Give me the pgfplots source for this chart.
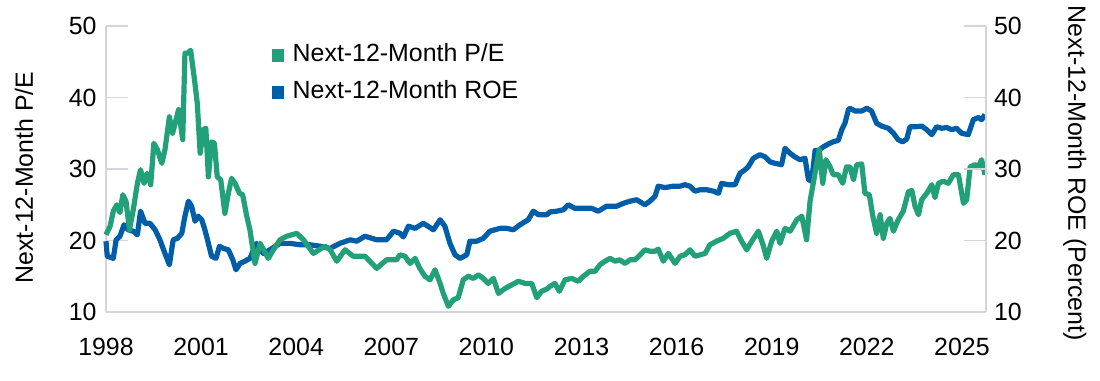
\documentclass[border=0pt]{standalone}
\usepackage{fontspec}
\setmainfont{Liberation Sans}
\usepackage{pgfplots}
\pgfplotsset{compat=1.18}
\definecolor{peGreen}{RGB}{34,160,122}
\definecolor{roeBlue}{RGB}{0,94,168}
\definecolor{axGray}{RGB}{210,214,220}
\newcommand{\lblfont}{\fontsize{25}{30}\selectfont}
\begin{document}
\begin{tikzpicture}
\path[use as bounding box] (-106bp,-69bp) rectangle (994bp,312bp);
\begin{axis}[
  at={(0,0)}, anchor=south west,
  scale only axis, width=880bp, height=286bp,
  xmin=1998, xmax=2025.76, ymin=10, ymax=50,
  clip=false,
  axis x line*=bottom, axis y line*=left,
  axis line style={axGray, line width=1.2bp},
  xtick={1998,2001,...,2025},
  ytick={10,20,...,50},
  tick align=inside,
  major tick length=22bp,
  x tick style={draw=none},
  y tick style={axGray, line width=1.2bp},
  tick label style={font=\lblfont, /pgf/number format/assume math mode=true},
  xticklabel style={/pgf/number format/1000 sep={}, yshift=-23bp},
  yticklabel style={xshift=-6bp},
  ylabel={Next-12-Month P/E},
  ylabel style={at={(axis description cs:-0.0932,0.47)}, anchor=center, font=\lblfont},
  legend cell align=left,
  legend style={draw=none, fill=none, at={(axis description cs:0.188,0.945)}, anchor=north west,
    font=\lblfont, row sep=10bp, column sep=7bp, inner sep=0pt,
    nodes={inner sep=2bp, text height=18bp, text depth=5bp}},
  legend image code/.code={\fill[#1] (0bp,-5.8bp) rectangle (11.7bp,5.8bp);},
]
\addlegendimage{peGreen, fill=peGreen}
\addlegendentry{Next-12-Month P/E}
\addlegendimage{roeBlue, fill=roeBlue}
\addlegendentry{Next-12-Month ROE}
\addplot[roeBlue, line width=5.2bp, line join=round, forget plot] coordinates {
(1998.00,19.9)(1998.04,17.8)(1998.23,17.5)(1998.32,20.1)(1998.44,20.6)(1998.57,22.2)(1998.70,21.5)(1998.86,21.3)(1998.99,20.8)(1999.09,24.1)(1999.23,22.4)(1999.39,22.4)(1999.55,21.5)(1999.70,20.1)(1999.86,18.2)(2000.00,16.6)(2000.12,20.1)(2000.25,20.3)(2000.39,21.0)(2000.49,23.4)(2000.60,25.5)(2000.70,24.8)(2000.81,22.7)(2000.91,23.4)(2001.02,22.9)(2001.12,21.5)(2001.23,19.6)(2001.33,17.8)(2001.47,17.5)(2001.58,19.2)(2001.70,18.9)(2001.86,18.7)(2002.00,17.3)(2002.10,15.9)(2002.23,16.8)(2002.38,17.1)(2002.54,17.5)(2002.75,19.6)(2002.96,18.2)(2003.17,18.7)(2003.49,19.6)(2003.81,19.6)(2004.12,19.4)(2004.44,19.4)(2004.75,19.2)(2005.07,18.9)(2005.38,19.6)(2005.70,20.1)(2005.91,19.9)(2006.17,20.6)(2006.54,20.1)(2006.85,20.1)(2007.07,21.3)(2007.28,21.0)(2007.38,20.5)(2007.54,22.0)(2007.75,21.7)(2008.01,22.4)(2008.33,21.5)(2008.54,22.9)(2008.69,22.0)(2008.85,19.6)(2009.01,18.0)(2009.17,17.5)(2009.38,18.0)(2009.48,19.9)(2009.69,19.9)(2009.90,20.3)(2010.11,21.3)(2010.43,21.7)(2010.64,21.7)(2010.85,21.5)(2011.06,22.2)(2011.32,22.9)(2011.48,24.1)(2011.64,23.6)(2011.90,23.6)(2012.01,24.0)(2012.22,24.1)(2012.43,24.3)(2012.58,25.0)(2012.79,24.5)(2013.06,24.5)(2013.32,24.5)(2013.53,24.1)(2013.79,24.8)(2014.11,24.8)(2014.32,25.2)(2014.53,25.5)(2014.74,25.7)(2015.00,25.0)(2015.16,25.5)(2015.32,26.2)(2015.42,27.6)(2015.63,27.4)(2015.90,27.6)(2016.11,27.6)(2016.26,27.8)(2016.42,27.6)(2016.58,26.9)(2016.74,27.1)(2016.95,27.1)(2017.16,26.9)(2017.32,26.6)(2017.42,28.0)(2017.63,27.8)(2017.84,27.8)(2018.00,29.4)(2018.16,29.9)(2018.26,30.3)(2018.42,31.5)(2018.63,32.0)(2018.79,31.7)(2018.95,31.0)(2019.10,30.8)(2019.31,30.6)(2019.42,32.9)(2019.58,32.2)(2019.73,31.7)(2019.89,31.3)(2020.05,31.5)(2020.16,28.5)(2020.26,28.3)(2020.37,32.6)(2020.47,32.6)(2020.63,33.1)(2020.79,33.5)(2020.94,33.8)(2021.10,34.0)(2021.21,35.5)(2021.31,36.4)(2021.42,38.3)(2021.47,38.5)(2021.63,38.1)(2021.84,38.1)(2022.00,38.5)(2022.15,38.1)(2022.31,36.4)(2022.47,36.0)(2022.68,35.7)(2022.84,35.0)(2022.99,34.1)(2023.13,33.8)(2023.26,34.2)(2023.36,35.9)(2023.52,35.9)(2023.73,36.0)(2023.89,35.5)(2024.05,34.8)(2024.20,35.9)(2024.36,35.7)(2024.52,35.8)(2024.68,35.5)(2024.83,35.7)(2024.99,35.0)(2025.20,34.8)(2025.36,36.9)(2025.52,37.2)(2025.62,36.9)(2025.73,37.6)
};
\addplot[peGreen, line width=5.2bp, line join=round, forget plot] coordinates {
(1998.00,20.8)(1998.13,22.0)(1998.23,24.1)(1998.34,25.0)(1998.44,23.9)(1998.53,26.4)(1998.63,25.5)(1998.74,21.5)(1998.86,24.3)(1998.99,28.0)(1999.09,29.9)(1999.20,28.0)(1999.30,29.4)(1999.41,27.8)(1999.51,33.6)(1999.62,32.7)(1999.76,30.8)(1999.86,32.7)(2000.00,37.3)(2000.10,35.0)(2000.21,36.9)(2000.29,38.3)(2000.42,34.1)(2000.49,46.2)(2000.57,46.2)(2000.67,46.6)(2000.78,42.9)(2000.88,39.2)(2000.97,32.2)(2001.07,35.5)(2001.15,35.7)(2001.23,28.9)(2001.33,33.8)(2001.42,33.6)(2001.51,28.9)(2001.62,28.5)(2001.75,23.8)(2001.86,26.6)(2001.96,28.7)(2002.07,28.0)(2002.21,26.6)(2002.31,26.4)(2002.44,23.4)(2002.54,21.5)(2002.70,16.8)(2002.86,19.6)(2003.12,17.5)(2003.28,18.7)(2003.49,20.1)(2003.70,20.6)(2004.02,21.0)(2004.23,20.1)(2004.54,18.2)(2004.91,19.2)(2005.07,18.7)(2005.28,17.1)(2005.54,18.7)(2005.80,17.8)(2006.17,17.8)(2006.54,16.1)(2006.85,17.3)(2007.17,17.3)(2007.27,18.0)(2007.43,17.8)(2007.59,16.8)(2007.75,17.5)(2007.90,16.1)(2008.06,15.0)(2008.22,14.5)(2008.38,15.9)(2008.54,14.0)(2008.64,12.6)(2008.80,10.8)(2008.96,11.7)(2009.11,12.0)(2009.27,14.5)(2009.43,15.0)(2009.59,14.7)(2009.75,15.2)(2009.90,14.7)(2010.06,14.0)(2010.22,14.7)(2010.38,12.6)(2010.59,13.3)(2010.80,13.8)(2011.01,14.3)(2011.22,14.0)(2011.43,14.0)(2011.59,12.0)(2011.74,12.9)(2011.90,13.2)(2012.01,13.6)(2012.16,14.0)(2012.30,12.9)(2012.48,14.5)(2012.69,14.7)(2012.90,14.3)(2013.06,15.0)(2013.27,15.7)(2013.43,15.7)(2013.58,16.6)(2013.74,17.1)(2013.90,17.5)(2014.06,17.1)(2014.21,17.3)(2014.37,16.8)(2014.53,17.3)(2014.69,17.3)(2014.85,18.0)(2015.00,18.7)(2015.16,18.5)(2015.32,18.5)(2015.42,18.8)(2015.58,17.1)(2015.74,18.2)(2015.95,16.8)(2016.11,17.8)(2016.26,18.0)(2016.42,18.7)(2016.58,17.8)(2016.74,18.0)(2016.90,18.2)(2017.05,19.4)(2017.26,19.9)(2017.47,20.3)(2017.68,21.0)(2017.89,21.3)(2018.05,19.9)(2018.21,18.7)(2018.37,19.9)(2018.58,21.3)(2018.74,19.2)(2018.84,17.5)(2019.00,19.9)(2019.16,21.3)(2019.26,19.6)(2019.42,21.7)(2019.58,21.3)(2019.79,22.9)(2019.95,23.4)(2020.10,20.1)(2020.21,25.5)(2020.31,28.0)(2020.42,30.8)(2020.50,32.7)(2020.61,28.0)(2020.71,31.3)(2020.84,30.3)(2020.94,29.2)(2021.10,29.2)(2021.24,28.0)(2021.36,30.3)(2021.47,30.3)(2021.58,28.5)(2021.68,30.6)(2021.84,30.7)(2021.94,26.6)(2022.08,26.4)(2022.19,23.4)(2022.31,21.0)(2022.42,23.6)(2022.52,20.3)(2022.63,22.4)(2022.73,23.1)(2022.84,21.3)(2022.99,22.9)(2023.15,24.1)(2023.31,26.8)(2023.42,27.0)(2023.52,24.8)(2023.63,23.6)(2023.73,25.7)(2023.89,26.6)(2024.05,27.8)(2024.15,26.0)(2024.26,28.0)(2024.41,28.3)(2024.57,28.0)(2024.73,29.2)(2024.89,29.2)(2025.05,25.2)(2025.15,25.7)(2025.26,30.3)(2025.41,30.6)(2025.52,30.3)(2025.62,31.3)(2025.73,29.2)
};
\end{axis}
\begin{axis}[
  at={(0,0)}, anchor=south west,
  scale only axis, width=880bp, height=286bp,
  xmin=1998, xmax=2025.76, ymin=10, ymax=50,
  axis y line*=right, axis x line=none,
  axis line style={axGray, line width=1.2bp},
  ytick={10,20,...,50},
  tick align=inside,
  major tick length=22bp,
  y tick style={axGray, line width=1.2bp},
  tick label style={font=\lblfont, /pgf/number format/assume math mode=true},
  yticklabel style={xshift=4.5bp},
  ylabel={Next-12-Month ROE (Percent)},
  ylabel style={at={(axis description cs:1.101,0.485)}, anchor=center, rotate=180, font=\lblfont},
]
\end{axis}
\end{tikzpicture}
\end{document}
